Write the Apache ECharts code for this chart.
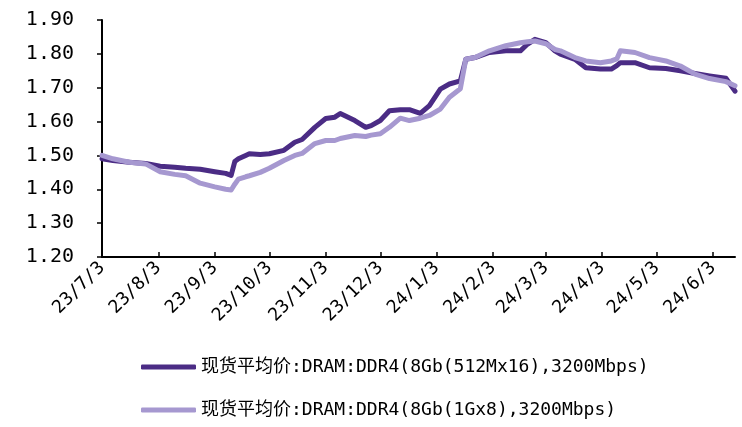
<!DOCTYPE html>
<html>
	<head>
		<meta charset="utf-8">
		<title>DRAM DDR4 现货平均价</title>
		<script type="text/javascript" src="https://cdn.jsdelivr.net/npm/echarts@6/dist/echarts.min.js"></script>
		<style>
			html, body { margin: 0; padding: 0; background: #fff; }
		</style>
	</head>
	<body>
		<div id="main" style="width: 742px;height:427px;"></div>
	</body>
	<script type="text/javascript">
		// 采样日期（年/月/日）
		var sampleDates = [
			'23/7/3', '23/7/9', '23/7/18', '23/7/27', '23/8/4', '23/8/12', '23/8/18', '23/8/26',
			'23/9/3', '23/9/9', '23/9/12', '23/9/14', '23/9/16', '23/9/20', '23/9/22', '23/9/28',
			'23/10/3', '23/10/11', '23/10/17', '23/10/21', '23/10/28', '23/11/3', '23/11/8', '23/11/11',
			'23/11/19', '23/11/25', '23/11/28', '23/12/3', '23/12/8', '23/12/14', '23/12/19', '23/12/25',
			'23/12/30', '24/1/5', '24/1/10', '24/1/16', '24/1/19', '24/1/24', '24/2/1', '24/2/10',
			'24/2/18', '24/2/22', '24/2/26', '24/3/3', '24/3/8', '24/3/11', '24/3/19', '24/3/25',
			'24/4/2', '24/4/8', '24/4/11', '24/4/13', '24/4/21', '24/4/29', '24/5/8', '24/5/16',
			'24/5/24', '24/6/1', '24/6/10', '24/6/15'
		];
		// 现货平均价:DRAM:DDR4(8Gb(512Mx16),3200Mbps)
		var ddr4_512Mx16 = [
			1.490, 1.485, 1.480, 1.476, 1.468, 1.465, 1.462, 1.459,
			1.452, 1.447, 1.441, 1.482, 1.490, 1.500, 1.505, 1.503,
			1.505, 1.515, 1.539, 1.547, 1.583, 1.609, 1.613, 1.624,
			1.603, 1.583, 1.588, 1.603, 1.632, 1.635, 1.635, 1.624,
			1.647, 1.696, 1.711, 1.720, 1.784, 1.789, 1.804, 1.809,
			1.809, 1.829, 1.843, 1.833, 1.809, 1.799, 1.784, 1.759,
			1.755, 1.755, 1.765, 1.774, 1.774, 1.759, 1.757, 1.750,
			1.742, 1.735, 1.728, 1.690
		];
		// 现货平均价:DRAM:DDR4(8Gb(1Gx8),3200Mbps)
		var ddr4_1Gx8 = [
			1.500, 1.490, 1.480, 1.475, 1.452, 1.444, 1.440, 1.418,
			1.407, 1.400, 1.398, 1.415, 1.430, 1.437, 1.440, 1.450,
			1.462, 1.485, 1.500, 1.506, 1.535, 1.544, 1.544, 1.550,
			1.559, 1.556, 1.560, 1.564, 1.583, 1.610, 1.603, 1.610,
			1.618, 1.637, 1.672, 1.697, 1.784, 1.789, 1.809, 1.824,
			1.833, 1.836, 1.838, 1.830, 1.813, 1.809, 1.789, 1.779,
			1.774, 1.779, 1.785, 1.809, 1.804, 1.789, 1.779, 1.764,
			1.740, 1.727, 1.718, 1.706
		];
		var seriesNames = [
			'现货平均价:DRAM:DDR4(8Gb(512Mx16),3200Mbps)',
			'现货平均价:DRAM:DDR4(8Gb(1Gx8),3200Mbps)'
		];
		var axisStart = '2023-07-03', axisEnd = '2024-06-15';

		// 按日生成横轴类目，标签只显示每月3日
		var days = [];
		var d = new Date(axisStart + 'T00:00:00');
		var end = new Date(axisEnd + 'T00:00:00');
		while (d <= end) {
			days.push(String(d.getFullYear()).slice(2) + '/' + (d.getMonth() + 1) + '/' + d.getDate());
			d.setDate(d.getDate() + 1);
		}
		function isThird(index, value) {
			return value.split('/')[2] === '3';
		}
		function pairs(vals) {
			return sampleDates.map(function (s, i) { return [s, vals[i]]; });
		}

		var font = '"DejaVu Sans Mono", "Noto Sans CJK SC", monospace';
		var myChart = echarts.init(document.getElementById('main'));
		myChart.setOption({
			animation: false,
			grid: {
				left: 102,
				right: 7,
				top: 20,
				bottom: 170
			},
			legend: {
				orient: 'vertical',
				left: 136,
				top: 353,
				itemGap: 25,
				itemWidth: 55,
				itemHeight: 5,
				icon: 'roundRect',
				data: seriesNames,
				textStyle: { fontFamily: font, fontSize: 18, color: '#000' }
			},
			xAxis: {
				type: 'category',
				boundaryGap: false,
				data: days,
				axisLine: { lineStyle: { color: '#000', width: 2 } },
				axisTick: { inside: true, interval: isThird, length: 5, lineStyle: { color: '#000', width: 1.5 } },
				axisLabel: {
					interval: isThird,
					rotate: 45,
					margin: 8,
					fontFamily: font,
					fontSize: 18,
					color: '#000'
				}
			},
			yAxis: {
				type: 'value',
				min: 1.2,
				max: 1.9,
				interval: 0.1,
				splitLine: { show: false },
				axisLine: { show: true, lineStyle: { color: '#000', width: 2 } },
				axisTick: { show: true, length: 5, lineStyle: { color: '#000', width: 1.5 } },
				axisLabel: {
					margin: 28,
					fontFamily: font,
					fontSize: 20,
					color: '#000',
					formatter: function (v) { return v.toFixed(2); }
				}
			},
			series: [
				{
					name: seriesNames[0],
					type: 'line',
					showSymbol: false,
					data: pairs(ddr4_512Mx16),
					itemStyle: { color: '#4b2c85' },
					lineStyle: { color: '#4b2c85', width: 5, cap: 'round', join: 'round' }
				},
				{
					name: seriesNames[1],
					type: 'line',
					showSymbol: false,
					data: pairs(ddr4_1Gx8),
					itemStyle: { color: '#a698d0' },
					lineStyle: { color: '#a698d0', width: 5, cap: 'round', join: 'round' }
				}
			]
		});
	</script>
</html>
